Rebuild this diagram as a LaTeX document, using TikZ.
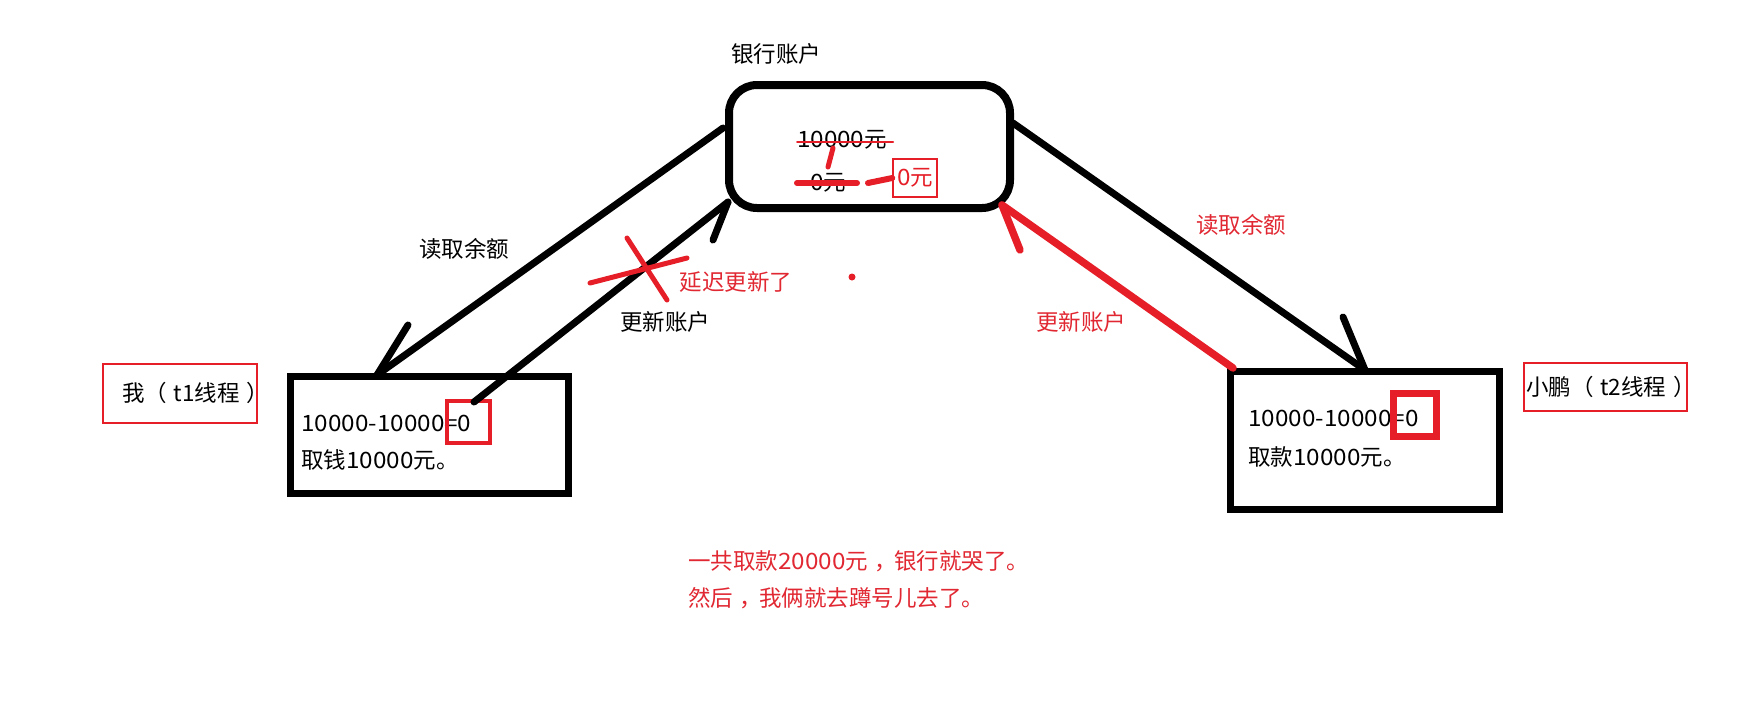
\documentclass[tikz,border=0pt]{standalone}
\usepackage{fontspec}
\setmainfont{Noto Sans CJK SC}
\newfontfamily\numfont[FakeStretch=1.08]{Noto Sans CJK SC}
\newcommand{\lp}{（\hspace{0.3em}}
\newcommand{\rp}{\hspace{0.3em}）}
\newcommand{\cm}{\hspace{0.3em}，\hspace{-0.15em}}
\definecolor{myred}{RGB}{230,30,40}
\definecolor{txtred}{RGB}{225,40,50}
\begin{document}
\begin{tikzpicture}[x=1pt,y=-1pt,
  txt/.style={font=\fontsize{22.5}{25}\selectfont, inner sep=0pt},
  redtxt/.style={txt, text=txtred},
  conn/.style={line width=7pt, line cap=round},
  redconn/.style={line width=7.5pt, line cap=round, draw=myred},
  redstroke/.style={line cap=round, draw=myred},
  thinbox/.style={draw=myred, line width=1.5pt, inner sep=0pt},
  thickbox/.style={draw=black, line width=7pt, inner sep=0pt}]
\useasboundingbox[fill=white] (0,0) rectangle (1750,724);

% main boxes
\node[draw, line width=8pt, rounded corners=28pt, minimum width=281pt, minimum height=123pt] (bank) at (869.5,146.5) {};
\node[thickbox, minimum width=278pt, minimum height=117pt] (me) at (429.5,435) {};
\node[thickbox, minimum width=269pt, minimum height=138pt] (peng) at (1365,440.5) {};

% titles
\node[txt] (banktitle) at (776,54) {银行账户};
\node[thinbox, minimum width=154pt, minimum height=59pt] (melabel) at (180,393.5) {};
\node[txt, anchor=west] (melabeltxt) at (122,393) {我\lp t1线程\rp};
\node[thinbox, minimum width=163pt, minimum height=48pt] (penglabel) at (1605.5,387) {};
\node[txt, anchor=west] (penglabeltxt) at (1526,387) {小鹏\lp t2线程\rp};

% bank contents
\node[txt] (amount) at (842,140) {{\numfont 10000}元};
\node[txt] (zeroA) at (828,183) {{\numfont 0}元};
\node[thinbox, text=myred, font=\fontsize{22.5}{25}\selectfont, minimum width=44pt, minimum height=38pt] (zeroB) at (915,178) {{\numfont 0}元};
\draw[redstroke, line width=2pt] (797,142) -- (893,142);
\draw[redstroke, line width=5pt] (833,148) -- (828,167);
\draw[redstroke, line width=6pt] (797,183) -- (857,183);
\draw[redstroke, line width=6pt] (868,183) -- (zeroB.west);

% box contents
\node[txt, anchor=west] (meeq) at (301,423) {\numfont 10000-10000=0};
\node[txt, anchor=west] (metake) at (301,460) {取钱{\numfont 10000}元。};
\node[draw=myred, line width=4pt, minimum width=43pt, minimum height=42pt, inner sep=0pt] (mesq) at (468.5,422) {};
\node[txt, anchor=west] (pengeq) at (1248,418) {\numfont 10000-10000=0};
\node[txt, anchor=west] (pengtake) at (1248,457) {取款{\numfont 10000}元。};
\node[draw=myred, line width=7pt, minimum width=43pt, minimum height=43pt, inner sep=0pt] (pengsq) at (1415,415) {};

% connector end points
\coordinate (bankLread) at (723,128);
\coordinate (meTop) at (377,375);
\coordinate (meBarb) at (408,325);
\coordinate (meUpd) at (474,402);
\coordinate (bankLupd) at (728,202);
\coordinate (bankLbarb) at (713,240);
\coordinate (bankRread) at (1013,123);
\coordinate (pengTop) at (1365,370);
\coordinate (pengBarb) at (1343,317);
\coordinate (pengUpd) at (1233,368);
\coordinate (bankRupd) at (1002,205);
\coordinate (bankRbarb) at (1020,250);

% connectors
\draw[conn] (bankLread) -- (meTop);
\draw[conn] (meTop) -- (meBarb);
\draw[conn] (meUpd) -- (bankLupd);
\draw[conn] (bankLupd) -- (bankLbarb);
\draw[conn] (bankRread) -- (pengTop);
\draw[conn] (pengTop) -- (pengBarb);
\draw[redconn] (pengUpd) -- (bankRupd);
\draw[redconn] (bankRupd) -- (bankRbarb);

% red cross on delayed update
\draw[redstroke, line width=5pt] (627,238) -- (667,300);
\draw[redstroke, line width=5pt] (590,283) -- (687,258);

% labels
\node[txt] (readL) at (464,249) {读取余额};
\node[redtxt] (delay) at (736,282) {延迟更新了};
\node[txt] (updL) at (665,322) {更新账户};
\node[redtxt] (readR) at (1241,225) {读取余额};
\node[redtxt] (updR) at (1081,322) {更新账户};
\fill[myred] (852,277) circle (3.5pt);

% bottom remarks
\node[redtxt, anchor=west] (note1) at (688,561) {一共取款{\numfont 20000}元\cm 银行就哭了。};
\node[redtxt, anchor=west] (note2) at (688,598) {然后\cm 我俩就去蹲号儿去了。};
\end{tikzpicture}
\end{document}
